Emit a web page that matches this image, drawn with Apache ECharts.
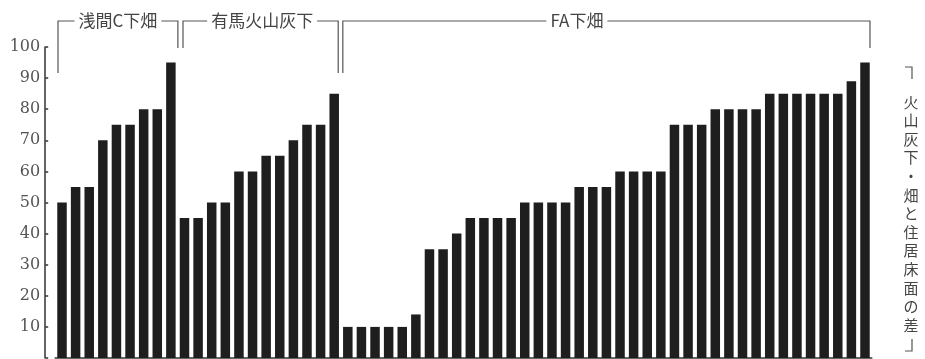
<!DOCTYPE html>
<html><head><meta charset="utf-8">
<script src="https://cdn.jsdelivr.net/npm/echarts@6/dist/echarts.min.js"></script>
<style>html,body{margin:0;padding:0;background:#fff}#c{width:925px;height:359px}</style>
</head><body><div id="c"></div>
<script>
// ---- data ----
const groupAsama = [50,55,55,70,75,75,80,80,95];
const groupArima = [45,45,50,50,60,60,65,65,70,75,75,85];
const groupFA = [10,10,10,10,10,14,35,35,40,45,45,45,45,50,50,50,50,55,55,55,60,60,60,60,75,75,75,80,80,80,80,85,85,85,85,85,85,89,95];
const groupNames = ['浅間C下畑','有馬火山灰下','FA下畑'];
const yTickValues = [10,20,30,40,50,60,70,80,90,100];
const axisTitle = '火山灰下・畑と住居床面の差';

const values = groupAsama.concat(groupArima, groupFA);
const categories = values.map((v, i) => String(i + 1));

const chart = echarts.init(document.getElementById('c'), null, {renderer: 'canvas'});
const serifFont = '"DejaVu Serif", "Liberation Serif", serif';
const cjkFont = '"Noto Sans CJK JP", "Noto Sans", sans-serif';

chart.setOption({
  animation: false,
  backgroundColor: '#fff',
  grid: {left: 55.2, right: 53.2, top: 47, bottom: 1, containLabel: false},
  xAxis: {
    type: 'category', data: categories, boundaryGap: true,
    axisLine: {show: true, lineStyle: {color: '#333', width: 1.5}},
    axisTick: {show: false}, axisLabel: {show: false}, splitLine: {show: false}
  },
  yAxis: {
    type: 'value', min: 0, max: 100, interval: 10, offset: 10,
    axisLine: {show: true, lineStyle: {color: '#333', width: 1.5}},
    axisTick: {show: true, inside: true, length: 3, lineStyle: {color: '#333', width: 1.5}},
    splitLine: {show: false},
    axisLabel: {
      margin: 5, color: '#555', fontFamily: serifFont, fontSize: 16,
      formatter: v => (yTickValues.indexOf(v) >= 0 ? String(v) : '')
    }
  },
  series: [{
    type: 'bar', data: values, barWidth: 9.5,
    itemStyle: {color: '#1e1e1e'}, silent: true
  }]
});

// ---- brackets ----
const px = i => chart.convertToPixel({gridIndex: 0}, [i, 0])[0];
const nA = groupAsama.length, nB = groupArima.length, nF = groupFA.length;
const yTop = 21, yLong = 73, yShort = 48;
const brackets = [
  {name: groupNames[0], x1: px(0) - 4, x2: px(nA - 1) + 7, y1: yLong, y2: yShort, frac: 0.5},
  {name: groupNames[1], x1: px(nA) - 1.5, x2: px(nA + nB - 1) + 4, y1: yShort, y2: yLong, frac: 0.51},
  {name: groupNames[2], x1: px(nA + nB) - 5, x2: px(nA + nB + nF - 1) + 5, y1: yLong, y2: yShort, frac: 0.444}
];
const lineStyle = {stroke: '#555', lineWidth: 1.2, fill: null};
const graphic = [];
brackets.forEach(b => {
  graphic.push({type: 'polyline', z: 10, shape: {points: [[b.x1, b.y1], [b.x1, yTop], [b.x2, yTop], [b.x2, b.y2]]}, style: lineStyle});
  graphic.push({type: 'text', z: 20, x: b.x1 + b.frac * (b.x2 - b.x1), y: yTop,
    style: {text: b.name, fill: '#444', font: '17px ' + cjkFont, align: 'center', verticalAlign: 'middle',
      backgroundColor: '#fff', padding: [0, 4]}});
});
// right vertical axis title
const tx = 911;
graphic.push({type: 'polyline', z: 10, shape: {points: [[905, 67], [912, 67], [912, 79]]}, style: lineStyle});
graphic.push({type: 'polyline', z: 10, shape: {points: [[912, 339], [912, 351], [905, 351]]}, style: lineStyle});
graphic.push({type: 'text', z: 20, x: tx, y: 213.5,
  style: {text: axisTitle.split('').join('\n'), fill: '#444', font: '15px ' + cjkFont, lineHeight: 18.6,
    align: 'center', verticalAlign: 'middle'}});
chart.setOption({graphic: graphic});
</script>
</body></html>
